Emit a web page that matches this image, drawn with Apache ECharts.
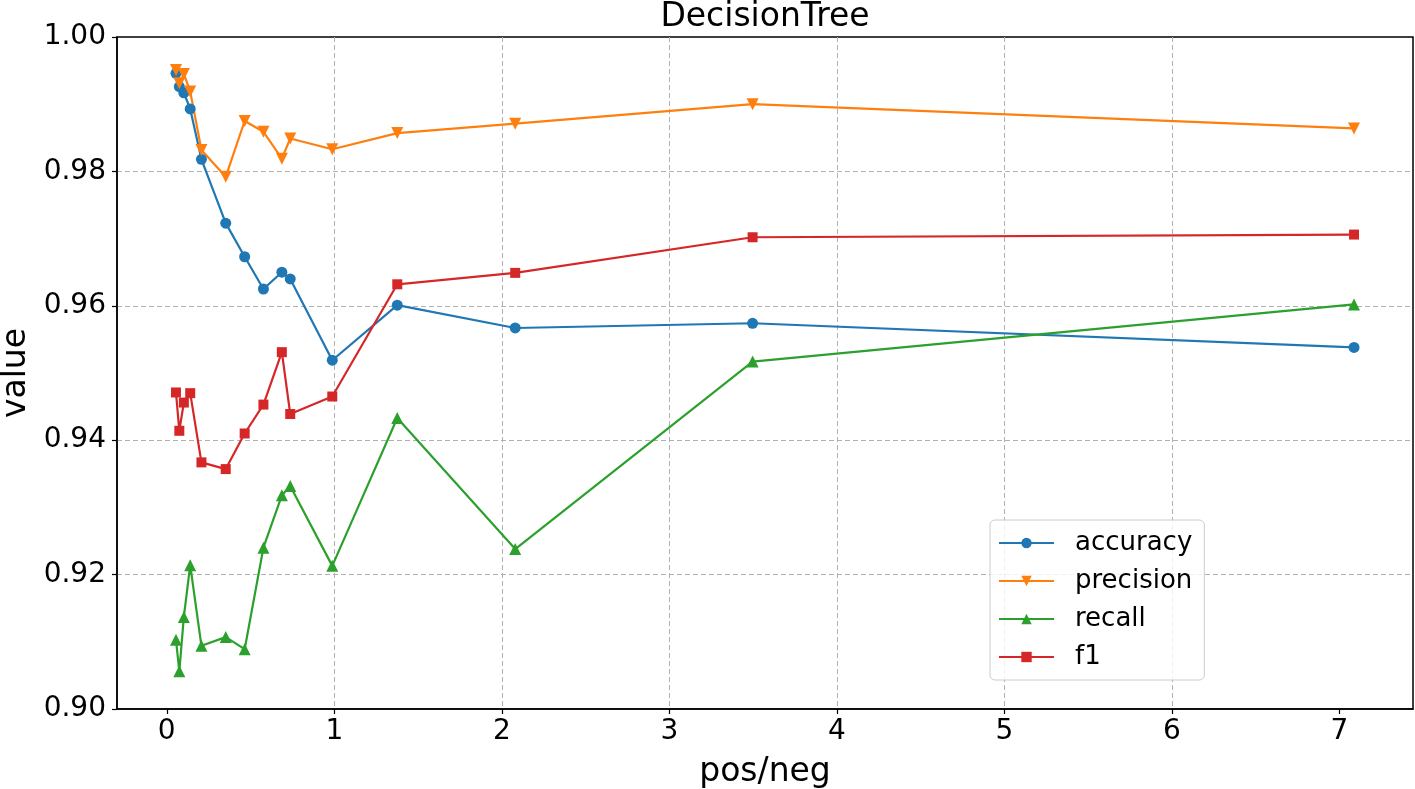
<!DOCTYPE html>
<html>
<head>
<meta charset="utf-8">
<script src="https://cdn.jsdelivr.net/npm/echarts@6/dist/echarts.min.js"></script>
<style>
html,body{margin:0;padding:0;background:#fff;}
#chart{width:1415px;height:789px;}
</style>
</head>
<body>
<div id="chart"></div>
<script>
const xValues = [0.055, 0.075, 0.102, 0.14, 0.207, 0.352, 0.465, 0.577, 0.687, 0.737, 0.988, 1.376, 2.08, 3.497, 7.087];
const accuracy = [0.9946, 0.9926, 0.9917, 0.9893, 0.9818, 0.9723, 0.9673, 0.9625, 0.9650, 0.9640, 0.9519, 0.9601, 0.9567, 0.9574, 0.9538];
const precision = [0.9951, 0.9931, 0.9945, 0.9919, 0.9832, 0.9792, 0.9875, 0.9859, 0.9819, 0.9849, 0.9833, 0.9857, 0.9871, 0.9900, 0.9864];
const recall = [0.9103, 0.9056, 0.9137, 0.9214, 0.9094, 0.9107, 0.9089, 0.9240, 0.9318, 0.9332, 0.9213, 0.9433, 0.9238, 0.9517, 0.9602];
const f1 = [0.9471, 0.9414, 0.9456, 0.9470, 0.9367, 0.9357, 0.9410, 0.9453, 0.9531, 0.9439, 0.9465, 0.9632, 0.9649, 0.9702, 0.9706];
const xTicks = [0, 1, 2, 3, 4, 5, 6, 7];
const yTicks = [0.90, 0.92, 0.94, 0.96, 0.98, 1.00];

const FONT = "'DejaVu Sans', sans-serif";
const seriesDefs = [
  {name: 'accuracy', data: accuracy, color: '#1f77b4', symbol: 'circle', size: 11, rotate: 0},
  {name: 'precision', data: precision, color: '#ff7f0e', symbol: 'triangle', size: 12, rotate: 180},
  {name: 'recall', data: recall, color: '#2ca02c', symbol: 'triangle', size: 12, rotate: 0},
  {name: 'f1', data: f1, color: '#d62728', symbol: 'rect', size: 10, rotate: 0}
];

const chart = echarts.init(document.getElementById('chart'), null, {renderer: 'canvas'});
const option = {
  animation: false,
  backgroundColor: '#fff',
  title: {
    text: 'DecisionTree',
    left: 765, textAlign: 'center', top: 1, padding: 0,
    textStyle: {fontFamily: FONT, fontSize: 33, fontWeight: 'normal', color: '#000'}
  },
  grid: {
    left: 117, right: 2, top: 37, bottom: 80,
    containLabel: false, outerBoundsMode: 'none',
    show: true, borderColor: '#000', borderWidth: 1.5, backgroundColor: 'transparent'
  },
  legend: {
    orient: 'vertical',
    left: 990, top: 520,
    padding: [10, 12, 10, 8],
    itemWidth: 55, itemHeight: 13, itemGap: 12,
    backgroundColor: 'rgba(255,255,255,0.8)',
    borderColor: '#cccccc', borderWidth: 1, borderRadius: 5,
    textStyle: {fontFamily: FONT, fontSize: 26, color: '#000', padding: [0, 0, 0, 16]},
    data: seriesDefs.map(s => s.name)
  },
  xAxis: {
    type: 'value',
    min: -0.297, max: 7.439,
    splitNumber: 8,
    name: 'pos/neg', nameLocation: 'middle', nameGap: 47,
    nameTextStyle: {fontFamily: FONT, fontSize: 33, color: '#000'},
    axisLine: {show: true, onZero: false, lineStyle: {color: '#000', width: 1.5}},
    axisTick: {show: true, inside: false, length: 5, lineStyle: {color: '#000', width: 1.2}, customValues: xTicks},
    axisLabel: {fontFamily: FONT, fontSize: 28, color: '#000', margin: 9, customValues: xTicks, formatter: v => String(v)},
    splitLine: {show: true, showMinLine: false, showMaxLine: false, lineStyle: {color: '#b0b0b0', type: [5, 3], width: 1}}
  },
  yAxis: {
    type: 'value',
    min: 0.9, max: 1.0, interval: 0.02,
    name: 'value', nameLocation: 'middle', nameGap: 82, nameRotate: 90,
    nameTextStyle: {fontFamily: FONT, fontSize: 33, color: '#000'},
    axisLine: {show: true, onZero: false, lineStyle: {color: '#000', width: 1.5}},
    axisTick: {show: true, inside: false, length: 5, lineStyle: {color: '#000', width: 1.2}},
    axisLabel: {fontFamily: FONT, fontSize: 28, color: '#000', margin: 11, formatter: v => v.toFixed(2)},
    splitLine: {show: true, showMinLine: false, showMaxLine: false, lineStyle: {color: '#b0b0b0', type: [5, 3], width: 1}}
  },
  series: seriesDefs.map(s => ({
    name: s.name,
    type: 'line',
    data: xValues.map((x, i) => [x, s.data[i]]),
    symbol: s.symbol,
    symbolSize: s.size,
    symbolRotate: s.rotate,
    showAllSymbol: true,
    color: s.color,
    lineStyle: {color: s.color, width: 2.2},
    itemStyle: {color: s.color, borderWidth: 0},
    emphasis: {disabled: true}
  }))
};
chart.setOption(option);
</script>
</body>
</html>
